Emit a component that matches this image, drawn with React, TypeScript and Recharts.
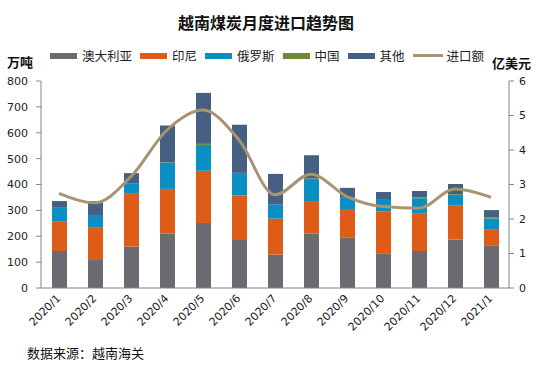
import React from 'react'
import { Bar, ComposedChart, Line, XAxis, YAxis } from 'recharts'

// 万吨
const months = [
  '2020/1', '2020/2', '2020/3', '2020/4', '2020/5', '2020/6', '2020/7',
  '2020/8', '2020/9', '2020/10', '2020/11', '2020/12', '2021/1',
]
const australia = [143, 108, 160, 210, 251, 189, 129, 210, 194, 132, 143, 187, 163]
const indonesia = [113, 125, 204, 173, 202, 169, 139, 123, 108, 163, 144, 131, 62]
const russia = [54, 49, 41, 101, 100, 87, 54, 88, 47, 49, 60, 42, 44]
const china = [0, 0, 0, 1, 4, 0, 0, 3, 0, 0, 3, 3, 3]
const others = [26, 54, 39, 143, 197, 186, 119, 89, 38, 27, 25, 39, 29]
// 亿美元
const importValue = [2.74, 2.47, 3.23, 4.58, 5.16, 4.29, 2.7, 3.3, 2.65, 2.36, 2.31, 2.87, 2.63]

const leftTicks = [0, 100, 200, 300, 400, 500, 600, 700, 800]
const rightTicks = [0, 1, 2, 3, 4, 5, 6]
const boundaryTicks = months.map((_, i) => i).concat(months.length)

const series = [
  { key: 'australia', name: '澳大利亚', color: '#6a6b70' },
  { key: 'indonesia', name: '印尼', color: '#df5c17' },
  { key: 'russia', name: '俄罗斯', color: '#0a8fc2' },
  { key: 'china', name: '中国', color: '#6e8a37' },
  { key: 'others', name: '其他', color: '#466083' },
]
const lineColor = '#a69473'
const axisColor = '#868686'
const cjk = '"Noto Sans CJK SC", "Noto Sans", sans-serif'
const latin = '"DejaVu Sans", Verdana, sans-serif'

const data = months.map((month, i) => ({
  month,
  australia: australia[i],
  indonesia: indonesia[i],
  russia: russia[i],
  china: china[i],
  others: others[i],
  value: importValue[i],
}))

const MonthTick = ({ x, y, payload }: any) => (
  <text
    x={x}
    y={y}
    dy={3}
    transform={`rotate(-45 ${x} ${y})`}
    textAnchor="end"
    fontSize={11}
    fontFamily={latin}
    fill="#222"
  >
    {payload.value}
  </text>
)

const Legend = () => (
  <div
    style={{
      position: 'absolute',
      left: 50,
      top: 47,
      display: 'flex',
      alignItems: 'center',
      fontFamily: cjk,
      fontSize: 12.5,
      color: '#222',
      lineHeight: '17px',
    }}
  >
    {series.map((s) => (
      <div key={s.key} style={{ display: 'flex', alignItems: 'center', marginRight: 8 }}>
        <span style={{ width: 27, height: 6, background: s.color, marginRight: 5 }} />
        <span>{s.name}</span>
      </div>
    ))}
    <div style={{ display: 'flex', alignItems: 'center' }}>
      <span style={{ width: 30, height: 3, background: lineColor, marginRight: 4 }} />
      <span>进口额</span>
    </div>
  </div>
)

export default function App() {
  return (
    <div
      style={{
        position: 'absolute',
        left: 0,
        top: 0,
        width: 536,
        height: 371,
        background: '#fff',
        overflow: 'hidden',
      }}
    >
      <div
        style={{
          position: 'absolute',
          left: 0,
          width: 532,
          top: 12,
          textAlign: 'center',
          fontFamily: cjk,
          fontWeight: 700,
          fontSize: 16,
          lineHeight: '20px',
          color: '#111',
        }}
      >
        越南煤炭月度进口趋势图
      </div>
      <Legend />
      <div
        style={{
          position: 'absolute',
          left: 7,
          top: 52,
          fontFamily: cjk,
          fontWeight: 700,
          fontSize: 13,
          color: '#111',
        }}
      >
        万吨
      </div>
      <div
        style={{
          position: 'absolute',
          left: 492,
          top: 53,
          fontFamily: cjk,
          fontWeight: 700,
          fontSize: 13,
          color: '#111',
        }}
      >
        亿美元
      </div>
      <div style={{ position: 'absolute', left: 0, top: 0 }}>
        <ComposedChart
          width={536}
          height={371}
          data={data}
          margin={{ top: 81, right: 0, bottom: 0, left: 0 }}
        >
          <XAxis
            xAxisId="bounds"
            type="number"
            domain={[0, months.length]}
            allowDataOverflow
            ticks={boundaryTicks}
            tick={false}
            tickSize={5}
            tickLine={{ stroke: axisColor }}
            axisLine={false}
            height={0}
          />
          <XAxis
            dataKey="month"
            interval={0}
            tick={<MonthTick />}
            tickLine={false}
            tickSize={5}
            tickMargin={4}
            axisLine={{ stroke: axisColor }}
            height={83}
          />
          <YAxis
            yAxisId="left"
            width={41}
            domain={[0, 800]}
            ticks={leftTicks}
            tickSize={5}
            tickMargin={8}
            tickLine={{ stroke: axisColor }}
            axisLine={{ stroke: axisColor }}
            tick={{ fontSize: 11, fill: '#222', fontFamily: latin }}
          />
          <YAxis
            yAxisId="right"
            orientation="right"
            width={27}
            domain={[0, 6]}
            ticks={rightTicks}
            tickSize={5}
            tickMargin={5}
            tickLine={{ stroke: axisColor }}
            axisLine={{ stroke: axisColor }}
            tick={{ fontSize: 11, fill: '#222', fontFamily: latin }}
          />
          {series.map((s) => (
            <Bar
              key={s.key}
              yAxisId="left"
              dataKey={s.key}
              name={s.name}
              stackId="coal"
              fill={s.color}
              barSize={15}
              isAnimationActive={false}
            />
          ))}
          <Line
            yAxisId="right"
            dataKey="value"
            name="进口额"
            type="monotone"
            stroke={lineColor}
            strokeWidth={3}
            dot={false}
            activeDot={false}
            isAnimationActive={false}
          />
        </ComposedChart>
      </div>
      <div
        style={{
          position: 'absolute',
          left: 27,
          top: 343,
          fontFamily: cjk,
          fontSize: 13,
          color: '#111',
        }}
      >
        数据来源：越南海关
      </div>
    </div>
  )
}
